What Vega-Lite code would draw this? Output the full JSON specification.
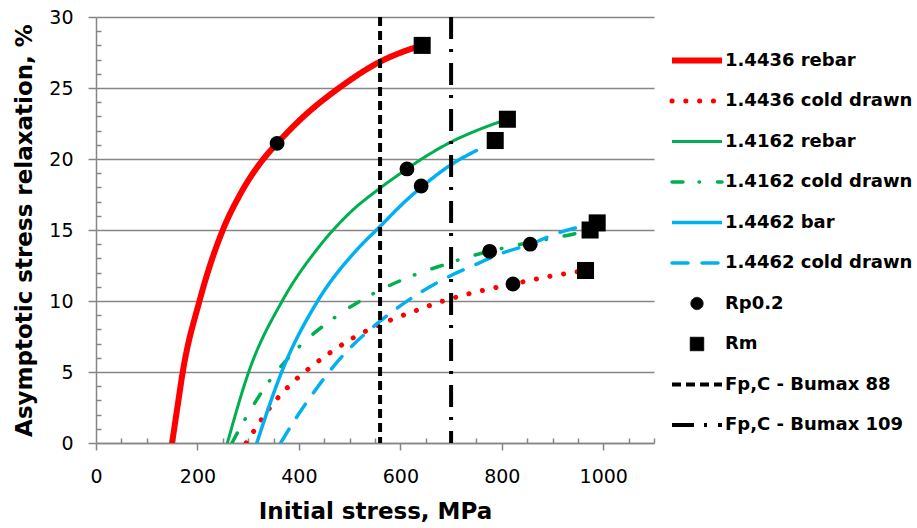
{
  "$schema": "https://vega.github.io/schema/vega-lite/v6.json",
  "width": 558,
  "height": 426,
  "autosize": {"type": "none"},
  "padding": {"left": 96, "top": 17, "right": 263, "bottom": 85},
  "background": "white",
  "datasets": {
    "curves": [
      {"series": "1.4436 rebar", "stress": 150, "relax": 0},
      {"series": "1.4436 rebar", "stress": 160, "relax": 2.4},
      {"series": "1.4436 rebar", "stress": 171, "relax": 5},
      {"series": "1.4436 rebar", "stress": 204, "relax": 10},
      {"series": "1.4436 rebar", "stress": 250, "relax": 15},
      {"series": "1.4436 rebar", "stress": 284, "relax": 17.5},
      {"series": "1.4436 rebar", "stress": 330, "relax": 20},
      {"series": "1.4436 rebar", "stress": 357, "relax": 21.1},
      {"series": "1.4436 rebar", "stress": 402, "relax": 22.75},
      {"series": "1.4436 rebar", "stress": 481, "relax": 25.05},
      {"series": "1.4436 rebar", "stress": 560, "relax": 26.85},
      {"series": "1.4436 rebar", "stress": 625, "relax": 27.8},
      {"series": "1.4436 rebar", "stress": 643, "relax": 28},
      {"series": "1.4436 cold drawn", "stress": 296, "relax": 0},
      {"series": "1.4436 cold drawn", "stress": 314, "relax": 1.0},
      {"series": "1.4436 cold drawn", "stress": 344, "relax": 2.55},
      {"series": "1.4436 cold drawn", "stress": 380, "relax": 4.0},
      {"series": "1.4436 cold drawn", "stress": 420, "relax": 5.25},
      {"series": "1.4436 cold drawn", "stress": 463, "relax": 6.4},
      {"series": "1.4436 cold drawn", "stress": 507, "relax": 7.4},
      {"series": "1.4436 cold drawn", "stress": 580, "relax": 8.65},
      {"series": "1.4436 cold drawn", "stress": 629, "relax": 9.3},
      {"series": "1.4436 cold drawn", "stress": 680, "relax": 9.95},
      {"series": "1.4436 cold drawn", "stress": 757, "relax": 10.7},
      {"series": "1.4436 cold drawn", "stress": 822, "relax": 11.2},
      {"series": "1.4436 cold drawn", "stress": 889, "relax": 11.7},
      {"series": "1.4436 cold drawn", "stress": 965, "relax": 12.15},
      {"series": "1.4162 rebar", "stress": 259, "relax": 0},
      {"series": "1.4162 rebar", "stress": 301, "relax": 5},
      {"series": "1.4162 rebar", "stress": 367, "relax": 10},
      {"series": "1.4162 rebar", "stress": 437, "relax": 13.7},
      {"series": "1.4162 rebar", "stress": 500, "relax": 16.2},
      {"series": "1.4162 rebar", "stress": 560, "relax": 17.95},
      {"series": "1.4162 rebar", "stress": 613, "relax": 19.3},
      {"series": "1.4162 rebar", "stress": 642, "relax": 20.0},
      {"series": "1.4162 rebar", "stress": 700, "relax": 21.2},
      {"series": "1.4162 rebar", "stress": 750, "relax": 22.0},
      {"series": "1.4162 rebar", "stress": 811, "relax": 22.8},
      {"series": "1.4162 cold drawn", "stress": 268, "relax": 0},
      {"series": "1.4162 cold drawn", "stress": 292, "relax": 1.57},
      {"series": "1.4162 cold drawn", "stress": 342, "relax": 4.37},
      {"series": "1.4162 cold drawn", "stress": 402, "relax": 6.83},
      {"series": "1.4162 cold drawn", "stress": 473, "relax": 8.9},
      {"series": "1.4162 cold drawn", "stress": 551, "relax": 10.6},
      {"series": "1.4162 cold drawn", "stress": 636, "relax": 11.95},
      {"series": "1.4162 cold drawn", "stress": 695, "relax": 12.65},
      {"series": "1.4162 cold drawn", "stress": 722, "relax": 12.98},
      {"series": "1.4162 cold drawn", "stress": 776, "relax": 13.5},
      {"series": "1.4162 cold drawn", "stress": 812, "relax": 13.8},
      {"series": "1.4162 cold drawn", "stress": 951, "relax": 14.8},
      {"series": "1.4162 cold drawn", "stress": 974, "relax": 15.0},
      {"series": "1.4462 bar", "stress": 317, "relax": 0},
      {"series": "1.4462 bar", "stress": 366, "relax": 5},
      {"series": "1.4462 bar", "stress": 437, "relax": 10},
      {"series": "1.4462 bar", "stress": 514, "relax": 13.6},
      {"series": "1.4462 bar", "stress": 560, "relax": 15.25},
      {"series": "1.4462 bar", "stress": 609, "relax": 17.0},
      {"series": "1.4462 bar", "stress": 641, "relax": 18.0},
      {"series": "1.4462 bar", "stress": 700, "relax": 19.6},
      {"series": "1.4462 bar", "stress": 750, "relax": 20.6},
      {"series": "1.4462 cold drawn", "stress": 364, "relax": 0},
      {"series": "1.4462 cold drawn", "stress": 396, "relax": 1.85},
      {"series": "1.4462 cold drawn", "stress": 430, "relax": 3.6},
      {"series": "1.4462 cold drawn", "stress": 465, "relax": 5.26},
      {"series": "1.4462 cold drawn", "stress": 501, "relax": 6.7},
      {"series": "1.4462 cold drawn", "stress": 547, "relax": 8.19},
      {"series": "1.4462 cold drawn", "stress": 593, "relax": 9.48},
      {"series": "1.4462 cold drawn", "stress": 642, "relax": 10.66},
      {"series": "1.4462 cold drawn", "stress": 695, "relax": 11.71},
      {"series": "1.4462 cold drawn", "stress": 744, "relax": 12.5},
      {"series": "1.4462 cold drawn", "stress": 803, "relax": 13.4},
      {"series": "1.4462 cold drawn", "stress": 856, "relax": 14.0},
      {"series": "1.4462 cold drawn", "stress": 909, "relax": 14.77},
      {"series": "1.4462 cold drawn", "stress": 988, "relax": 15.47}
    ],
    "markers": [
      {"series": "Rp0.2", "stress": 357, "relax": 21.1},
      {"series": "Rp0.2", "stress": 613, "relax": 19.3},
      {"series": "Rp0.2", "stress": 641, "relax": 18.1},
      {"series": "Rp0.2", "stress": 776, "relax": 13.5},
      {"series": "Rp0.2", "stress": 856, "relax": 14.0},
      {"series": "Rp0.2", "stress": 822, "relax": 11.2},
      {"series": "Rm", "stress": 643, "relax": 28.0},
      {"series": "Rm", "stress": 811, "relax": 22.8},
      {"series": "Rm", "stress": 787, "relax": 21.3},
      {"series": "Rm", "stress": 974, "relax": 15.0},
      {"series": "Rm", "stress": 988, "relax": 15.5},
      {"series": "Rm", "stress": 965, "relax": 12.15}
    ],
    "limits": [
      {"series": "Fp,C - Bumax 88", "stress": 560},
      {"series": "Fp,C - Bumax 109", "stress": 700}
    ]
  },
  "layer": [
    {
      "data": {"name": "curves"},
      "mark": {"type": "line", "interpolate": "monotone", "strokeCap": "round", "clip": true},
      "encoding": {
        "strokeDash": {"field": "series", "type": "nominal"},
        "strokeWidth": {"field": "series", "type": "nominal"}
      }
    },
    {
      "data": {"name": "limits"},
      "mark": {"type": "rule", "strokeCap": "butt"},
      "encoding": {
        "y": null,
        "strokeDash": {"field": "series", "type": "nominal"},
        "strokeWidth": {"field": "series", "type": "nominal"}
      }
    },
    {
      "data": {"name": "markers"},
      "transform": [{"filter": "datum.series === 'Rp0.2'"}],
      "mark": {"type": "point", "filled": true, "opacity": 1, "size": 220},
      "encoding": {
        "shape": {"field": "series", "type": "nominal"}
      }
    },
    {
      "data": {"name": "markers"},
      "transform": [{"filter": "datum.series === 'Rm'"}],
      "mark": {"type": "point", "filled": true, "opacity": 1, "size": 290},
      "encoding": {
        "shape": {"field": "series", "type": "nominal"}
      }
    }
  ],
  "encoding": {
    "x": {
      "field": "stress",
      "type": "quantitative",
      "scale": {"domain": [0, 1100], "nice": false, "zero": false},
      "axis": {
        "title": "Initial stress, MPa",
        "values": [0, 50, 100, 150, 200, 250, 300, 350, 400, 450, 500, 550, 600, 650, 700, 750, 800, 850, 900, 950, 1000, 1050, 1100],
        "format": "d",
        "labelExpr": "datum.value % 200 === 0 ? datum.label : ''",
        "tickSize": {"condition": {"test": "datum.value % 200 === 0", "value": 7}, "value": -5},
        "grid": false,
        "labelFlush": false,
        "labelOverlap": false,
        "labelPadding": 17,
        "titlePadding": 14
      }
    },
    "y": {
      "field": "relax",
      "type": "quantitative",
      "scale": {"domain": [0, 30], "nice": false, "zero": false},
      "axis": {
        "title": "Asymptotic stress relaxation, %",
        "values": [0, 1, 2, 3, 4, 5, 6, 7, 8, 9, 10, 11, 12, 13, 14, 15, 16, 17, 18, 19, 20, 21, 22, 23, 24, 25, 26, 27, 28, 29, 30],
        "format": "d",
        "labelExpr": "datum.value % 5 === 0 ? datum.label : ''",
        "tickSize": {"condition": {"test": "datum.value % 5 === 0", "value": 8}, "value": -5},
        "grid": true,
        "gridOpacity": {"condition": {"test": "datum.value % 5 === 0", "value": 1}, "value": 0},
        "labelFlush": false,
        "labelOverlap": false,
        "labelPadding": 15,
        "titlePadding": 12
      }
    },
    "color": {
      "field": "series",
      "type": "nominal",
      "scale": {
        "domain": ["1.4436 rebar", "1.4436 cold drawn", "1.4162 rebar", "1.4162 cold drawn", "1.4462 bar", "1.4462 cold drawn", "Rp0.2", "Rm", "Fp,C - Bumax 88", "Fp,C - Bumax 109"],
        "range": ["#FF0000", "#FF0000", "#00B050", "#00B050", "#00B0F0", "#00B0F0", "#000000", "#000000", "#000000", "#000000"]
      },
      "legend": {
        "title": null,
        "encode": {
          "symbols": {
            "update": {
              "fill": {"signal": "datum.value === 'Rp0.2' || datum.value === 'Rm' ? '#000000' : 'transparent'"},
              "size": {"signal": "datum.value === 'Rp0.2' ? 150 : datum.value === 'Rm' ? 180 : 2500"},
              "strokeCap": {"signal": "indexof(datum.value, 'cold drawn') >= 0 ? 'round' : 'butt'"}
            }
          }
        }
      }
    },
    "strokeDash": {
      "field": "series",
      "type": "nominal",
      "scale": {
        "domain": ["1.4436 rebar", "1.4436 cold drawn", "1.4162 rebar", "1.4162 cold drawn", "1.4462 bar", "1.4462 cold drawn", "Rp0.2", "Rm", "Fp,C - Bumax 88", "Fp,C - Bumax 109"],
        "range": [[1, 0], [0.1, 13.7], [1, 0], [11, 16, 0.5, 18], [1, 0], [16, 14], [1, 0], [1, 0], [9, 5], [22, 10, 3, 11]]
      },
      "legend": {"title": null}
    },
    "strokeWidth": {
      "field": "series",
      "type": "nominal",
      "scale": {
        "type": "ordinal",
        "domain": ["1.4436 rebar", "1.4436 cold drawn", "1.4162 rebar", "1.4162 cold drawn", "1.4462 bar", "1.4462 cold drawn", "Rp0.2", "Rm", "Fp,C - Bumax 88", "Fp,C - Bumax 109"],
        "range": [6, 5, 3, 3.5, 3.5, 3.5, 1, 1, 4, 4]
      },
      "legend": {"title": null}
    },
    "shape": {
      "field": "series",
      "type": "nominal",
      "scale": {
        "domain": ["1.4436 rebar", "1.4436 cold drawn", "1.4162 rebar", "1.4162 cold drawn", "1.4462 bar", "1.4462 cold drawn", "Rp0.2", "Rm", "Fp,C - Bumax 88", "Fp,C - Bumax 109"],
        "range": ["stroke", "stroke", "stroke", "stroke", "stroke", "stroke", "circle", "square", "stroke", "stroke"]
      },
      "legend": {"title": null}
    }
  },
  "config": {
    "view": {"stroke": null},
    "axis": {
      "domainColor": "#868686",
      "domainWidth": 1.5,
      "tickColor": "#868686",
      "tickWidth": 1.5,
      "gridColor": "#868686",
      "gridWidth": 1.5,
      "labelFont": "DejaVu Sans",
      "labelFontSize": 19,
      "labelColor": "#000000",
      "titleFont": "DejaVu Sans",
      "titleFontSize": 23,
      "titleFontWeight": "bold",
      "titleColor": "#000000"
    },
    "legend": {
      "orient": "none",
      "legendX": 573,
      "legendY": 33.5,
      "padding": 0,
      "clipHeight": 20,
      "rowPadding": 20.5,
      "symbolSize": 2500,
      "labelFont": "DejaVu Sans",
      "labelFontSize": 18,
      "labelFontWeight": "bold",
      "labelColor": "#000000",
      "labelLimit": 400,
      "labelOffset": 0
    }
  }
}
